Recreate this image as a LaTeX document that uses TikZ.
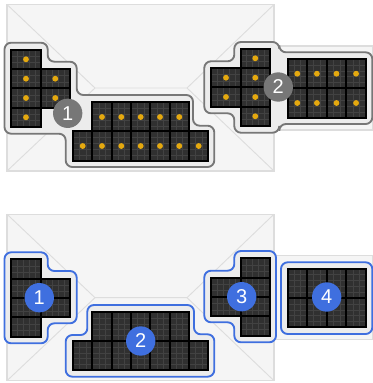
\documentclass[tikz,border=0pt]{standalone}
\usepackage{fontspec}
\setmainfont{Liberation Sans}
\usetikzlibrary{calc}
\definecolor{roofgrey}{HTML}{F5F5F5}
\definecolor{roofline}{HTML}{DDDDDD}
\definecolor{areafill}{HTML}{ECECEC}
\definecolor{stringgrey}{HTML}{777777}
\definecolor{mppblue}{HTML}{3F6FDF}
\definecolor{celldark}{HTML}{303030}
\definecolor{cellline}{HTML}{424242}
\definecolor{amber}{HTML}{E5A90F}
\tikzset{
  roof/.style={fill=roofgrey, draw=roofline, line width=0.8pt},
  ridge/.style={draw=roofline, line width=0.7pt},
  greyarea/.style={fill=areafill, draw=stringgrey, line width=1.4pt, rounded corners=5pt},
  bluearea/.style={fill=areafill, draw=mppblue, line width=1.4pt, rounded corners=5pt},
  panel/.style={draw=black, fill=celldark, line width=1.4pt, inner sep=0pt, outer sep=0pt},
  landscape/.style={panel, minimum width=21.9pt, minimum height=14.5pt, path picture={
      \foreach \f in {0.2,0.4,0.6,0.8}
        \draw[cellline, line width=0.3pt] ($(path picture bounding box.south west)!\f!(path picture bounding box.south east)$) -- ($(path picture bounding box.north west)!\f!(path picture bounding box.north east)$);
      \foreach \f in {0.33,0.67}
        \draw[cellline, line width=0.3pt] ($(path picture bounding box.south west)!\f!(path picture bounding box.north west)$) -- ($(path picture bounding box.south east)!\f!(path picture bounding box.north east)$);
    }},
  portrait/.style={panel, minimum width=14.5pt, minimum height=21.9pt, path picture={
      \foreach \f in {0.33,0.67}
        \draw[cellline, line width=0.3pt] ($(path picture bounding box.south west)!\f!(path picture bounding box.south east)$) -- ($(path picture bounding box.north west)!\f!(path picture bounding box.north east)$);
      \foreach \f in {0.2,0.4,0.6,0.8}
        \draw[cellline, line width=0.3pt] ($(path picture bounding box.south west)!\f!(path picture bounding box.north west)$) -- ($(path picture bounding box.south east)!\f!(path picture bounding box.north east)$);
    }},
  sundot/.style={circle, fill=amber, minimum size=4.4pt, inner sep=0pt},
  badge/.style={circle, minimum size=22pt, inner sep=0pt, text=white, font=\fontsize{15}{15}\selectfont},
  greybadge/.style={badge, fill=stringgrey},
  bluebadge/.style={badge, fill=mppblue},
}
\begin{document}
\begin{tikzpicture}[x=0.75pt, y=-0.75pt]
  \useasboundingbox (0,0) rectangle (373,383);
  % roof outlines
  \foreach \dy in {0,209.7} {
    \draw[roof] (274,46+\dy) rectangle (373,130+\dy);
    \draw[roof] (7,4.5+\dy) rectangle (274,171+\dy);
    \draw[ridge] (7,4.5+\dy) -- (95,88+\dy) -- (187,88+\dy) -- (274,4.5+\dy);
    \draw[ridge] (7,171+\dy) -- (95,88+\dy);
    \draw[ridge] (274,171+\dy) -- (187,88+\dy);
  }
  % upper strings
  \draw[greyarea] (4.5,42.7) -- (47.7,42.7) -- (47.7,61.7) -- (76.7,61.7) -- (76.7,95) -- (193,95) -- (193,125.7) -- (214.3,125.7) -- (214.3,167) -- (65.7,167) -- (65.7,133.7) -- (4.5,133.7) -- cycle;
  \draw[greyarea] (204.3,61.3) -- (234.3,61.3) -- (234.3,42) -- (279.3,42) -- (279.3,52.3) -- (372.3,52.3) -- (372.3,124) -- (279.3,124) -- (279.3,132.7) -- (234.3,132.7) -- (234.3,113.3) -- (204.3,113.3) -- cycle;
  % lower strings
  \draw[bluearea] (4.5,252.3) -- (47.7,252.3) -- (47.7,271) -- (76.7,271) -- (76.7,323.3) -- (47.7,323.3) -- (47.7,343.3) -- (4.5,343.3) -- cycle;
  \draw[bluearea] (87.3,305) -- (194,305) -- (194,334.3) -- (214.3,334.3) -- (214.3,376.7) -- (65.7,376.7) -- (65.7,335) -- (87.3,335) -- cycle;
  \draw[bluearea] (204.3,270.7) -- (234.3,270.7) -- (234.3,251) -- (276,251) -- (276,342.3) -- (234.3,342.3) -- (234.3,322.3) -- (204.3,322.3) -- cycle;
  \draw[bluearea] (281,262.3) rectangle (372.3,334);
  % panels, upper with dots
  \foreach \dy/\r in {0/u,209.7/l} {
    \foreach \X/\Y [count=\n] in {26/59.3,26/78.7,26/98,26/117.3,55.3/78.7,55.3/98,255.3/58.3,255.3/77.7,255.3/97,255.3/116.3,226/77.7,226/97}
      \node[landscape] (a\r\n) at (\X,\Y+\dy) {};
    \foreach \X/\Y [count=\n] in {102/117,121.3/117,140.7/117,160/117,179.3/117,82.7/146,102/146,121.3/146,140.7/146,160/146,179.3/146,198.7/146,297.3/73.7,316.9/73.7,336.5/73.7,356.1/73.7,297.3/103,316.9/103,336.5/103,356.1/103}
      \node[portrait] (b\r\n) at (\X,\Y+\dy) {};
  }
  \foreach \n in {1,...,12}
    \node[sundot] (sa\n) at (au\n) {};
  \foreach \n in {1,...,20}
    \node[sundot] (sb\n) at (bu\n) {};
  % badges
  \node[greybadge] (one) at (67.7,113.3) {1};
  \node[greybadge] (two) at (278.3,87) {2};
  \node[bluebadge] (mone) at (39.3,297.7) {1};
  \node[bluebadge] (mtwo) at (140.7,341) {2};
  \node[bluebadge] (mthree) at (241.7,296.7) {3};
  \node[bluebadge] (mfour) at (326.7,297) {4};
\end{tikzpicture}
\end{document}
